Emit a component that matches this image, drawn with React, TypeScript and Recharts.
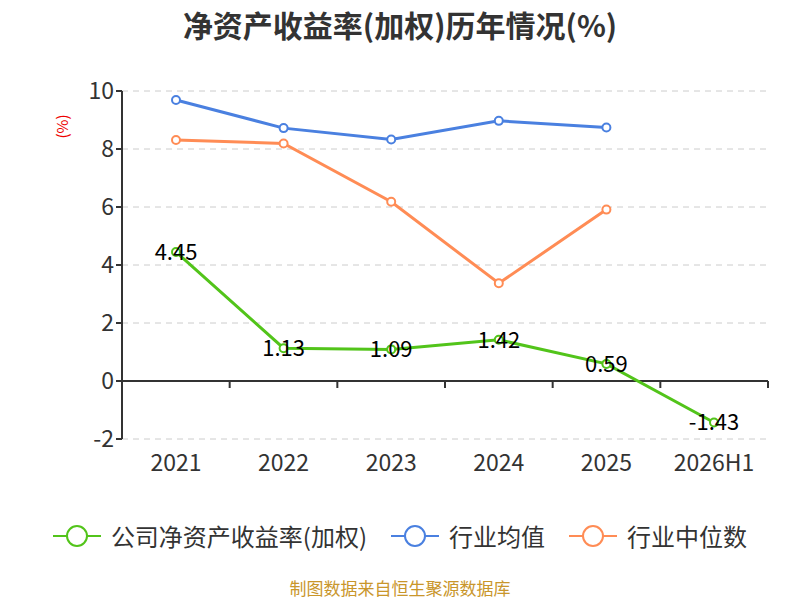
import React from 'react'
import {
  LineChart, Line, XAxis, YAxis, CartesianGrid, ReferenceLine, LabelList,
} from 'recharts'

const FONT = '"Noto Sans CJK SC", "Noto Sans", sans-serif'

const years = ['2021', '2022', '2023', '2024', '2025', '2026H1']
const companyRoe = [4.45, 1.13, 1.09, 1.42, 0.59, -1.43]
const industryAvg = [9.69, 8.72, 8.33, 8.97, 8.74, null]
const industryMedian = [8.31, 8.19, 6.18, 3.37, 5.91, null]
const yTicks = [-2, 0, 2, 4, 6, 8, 10]

const series = [
  { key: 'company', name: '公司净资产收益率(加权)', color: '#52c41a' },
  { key: 'avg', name: '行业均值', color: '#4a80e0' },
  { key: 'median', name: '行业中位数', color: '#ff8c55' },
]

const data = years.map((year, i) => ({
  year,
  company: companyRoe[i],
  avg: industryAvg[i],
  median: industryMedian[i],
}))

// zero line with category boundary ticks, like an axis sitting on y = 0
function ZeroAxis(props: any) {
  const { x1, y1, x2 } = props
  const left = Math.min(x1, x2)
  const right = Math.max(x1, x2)
  const step = (right - left) / years.length
  return (
    <g>
      <line x1={left} y1={y1} x2={right} y2={y1} stroke="#333" strokeWidth={2} />
      {years.map((_, i) => (
        <line key={i} x1={left + step * (i + 1)} y1={y1} x2={left + step * (i + 1)} y2={y1 + 7} stroke="#333" strokeWidth={2} />
      ))}
    </g>
  )
}

function ValueLabel(props: any) {
  const { x, y, value } = props
  return (
    <text x={x} y={y - 2} textAnchor="middle" dominantBaseline="central" fontSize={22} fill="#000" fontFamily={FONT}>
      {value}
    </text>
  )
}

function LegendIcon({ color }: { color: string }) {
  return (
    <svg width={48} height={24}>
      <line x1={0} y1={12} x2={48} y2={12} stroke={color} strokeWidth={2} />
      <circle cx={24} cy={12} r={10} fill="#fff" stroke={color} strokeWidth={2} />
    </svg>
  )
}

export default function App() {
  return (
    <div style={{ position: 'absolute', left: 0, top: 0, width: 800, height: 600, background: '#fff', fontFamily: FONT }}>
      <div style={{ position: 'absolute', top: 2, width: 800, textAlign: 'center', fontSize: 30, fontWeight: 'bold', color: '#333' }}>
        净资产收益率(加权)历年情况(%)
      </div>
      <div style={{ position: 'absolute', left: 50, top: 116, transform: 'rotate(-90deg)', color: '#e00', fontSize: 15 }}>
        (%)
      </div>

      <LineChart width={800} height={600} data={data} margin={{ top: 91, right: 32, bottom: 121, left: 62 }}>
        <CartesianGrid vertical={false} stroke="#ccc" strokeDasharray="6 5" />
        <XAxis
          dataKey="year"
          axisLine={false}
          tickLine={false}
          height={40}
          padding={{ left: 54, right: 54 }}
          tick={{ fill: '#333', fontSize: 23, fontFamily: FONT }}
          tickMargin={10}
          interval={0}
        />
        <YAxis
          domain={[-2, 10]}
          ticks={yTicks}
          width={60}
          axisLine={{ stroke: '#333', strokeWidth: 2 }}
          tickLine={{ stroke: '#333', strokeWidth: 2 }}
          tickSize={6}
          tick={{ fill: '#333', fontSize: 23, fontFamily: FONT }}
          interval={0}
        />
        <ReferenceLine y={0} shape={ZeroAxis} />
        <Line dataKey="avg" name="行业均值" stroke="#4a80e0" strokeWidth={3} dot={{ r: 4, fill: '#fff', stroke: '#4a80e0', strokeWidth: 2 }} isAnimationActive={false} />
        <Line dataKey="median" name="行业中位数" stroke="#ff8c55" strokeWidth={3} dot={{ r: 4, fill: '#fff', stroke: '#ff8c55', strokeWidth: 2 }} isAnimationActive={false} />
        <Line dataKey="company" name="公司净资产收益率(加权)" stroke="#52c41a" strokeWidth={3} dot={{ r: 4, fill: '#fff', stroke: '#52c41a', strokeWidth: 2 }} isAnimationActive={false}>
          <LabelList dataKey="company" content={ValueLabel} />
        </Line>
      </LineChart>

      <div style={{ position: 'absolute', top: 518, width: 800, display: 'flex', justifyContent: 'center', gap: 24 }}>
        {series.map(s => (
          <div key={s.key} style={{ display: 'flex', alignItems: 'center', gap: 10, fontSize: 24, color: '#333' }}>
            <LegendIcon color={s.color} />
            <span>{s.name}</span>
          </div>
        ))}
      </div>

      <div style={{ position: 'absolute', top: 579, width: 800, textAlign: 'center', fontSize: 17, lineHeight: '18px', color: '#c9962b' }}>
        制图数据来自恒生聚源数据库
      </div>
    </div>
  )
}
